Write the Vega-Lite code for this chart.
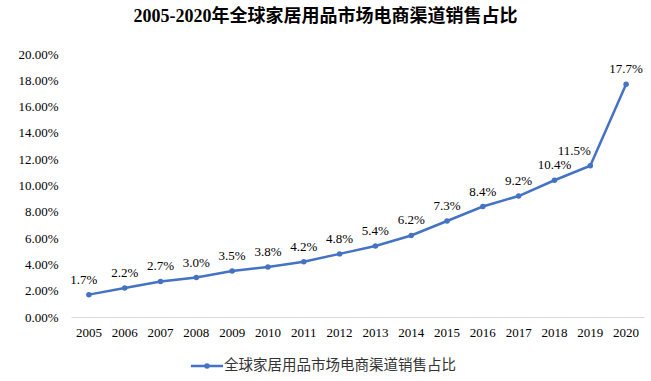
{
  "$schema": "https://vega.github.io/schema/vega-lite/v6.json",
  "autosize": {"type": "none"},
  "width": 573,
  "height": 263,
  "padding": {"left": 71, "top": 54, "right": 7, "bottom": 64},
  "background": "white",
  "config": {
    "view": {"stroke": null},
    "font": "'Liberation Serif', 'Times New Roman', serif"
  },
  "title": {
    "text": "2005-2020年全球家居用品市场电商渠道销售占比",
    "font": "'Liberation Serif', 'Noto Sans CJK SC', serif",
    "fontSize": 18,
    "fontWeight": "bold",
    "color": "#000000",
    "anchor": "middle",
    "dx": -32,
    "offset": 22
  },
  "data": {
    "values": [
      {"year": "2005", "share": 0.017, "series": "全球家居用品市场电商渠道销售占比"},
      {"year": "2006", "share": 0.022, "series": "全球家居用品市场电商渠道销售占比"},
      {"year": "2007", "share": 0.027, "series": "全球家居用品市场电商渠道销售占比"},
      {"year": "2008", "share": 0.030, "series": "全球家居用品市场电商渠道销售占比"},
      {"year": "2009", "share": 0.035, "series": "全球家居用品市场电商渠道销售占比"},
      {"year": "2010", "share": 0.038, "series": "全球家居用品市场电商渠道销售占比"},
      {"year": "2011", "share": 0.042, "series": "全球家居用品市场电商渠道销售占比"},
      {"year": "2012", "share": 0.048, "series": "全球家居用品市场电商渠道销售占比"},
      {"year": "2013", "share": 0.054, "series": "全球家居用品市场电商渠道销售占比"},
      {"year": "2014", "share": 0.062, "series": "全球家居用品市场电商渠道销售占比"},
      {"year": "2015", "share": 0.073, "series": "全球家居用品市场电商渠道销售占比"},
      {"year": "2016", "share": 0.084, "series": "全球家居用品市场电商渠道销售占比"},
      {"year": "2017", "share": 0.092, "series": "全球家居用品市场电商渠道销售占比"},
      {"year": "2018", "share": 0.104, "series": "全球家居用品市场电商渠道销售占比"},
      {"year": "2019", "share": 0.115, "series": "全球家居用品市场电商渠道销售占比"},
      {"year": "2020", "share": 0.177, "series": "全球家居用品市场电商渠道销售占比"}
    ]
  },
  "encoding": {
    "x": {
      "field": "year",
      "type": "ordinal",
      "title": null,
      "scale": {"type": "band", "paddingInner": 0, "paddingOuter": 0},
      "axis": {
        "labelAngle": 0,
        "labelFont": "'Liberation Serif', 'Times New Roman', serif",
        "labelFontSize": 13,
        "labelColor": "#000000",
        "labelPadding": 9,
        "ticks": false,
        "domainColor": "#d9d9d9",
        "domainWidth": 1,
        "grid": false
      }
    },
    "y": {
      "field": "share",
      "type": "quantitative",
      "title": null,
      "scale": {"domain": [0, 0.2], "nice": false},
      "axis": {
        "values": [0, 0.02, 0.04, 0.06, 0.08, 0.1, 0.12, 0.14, 0.16, 0.18, 0.2],
        "format": ".2%",
        "labelFont": "'Liberation Serif', 'Times New Roman', serif",
        "labelFontSize": 13,
        "labelColor": "#000000",
        "labelPadding": 13,
        "ticks": false,
        "domain": false,
        "grid": false
      }
    }
  },
  "layer": [
    {
      "mark": {"type": "line", "color": "#4472C4", "strokeWidth": 2.5},
      "encoding": {
        "color": {
          "field": "series",
          "type": "nominal",
          "scale": {"range": ["#4472C4"]},
          "legend": {
            "title": null,
            "orient": "none",
            "legendX": 124,
            "legendY": 300,
            "direction": "horizontal",
            "symbolType": "M-1.5,0L1.5,0M-0.14,0A0.14,0.14 0 1,1 0.14,0A0.14,0.14 0 1,1 -0.14,0Z",
            "symbolSize": 460,
            "symbolStrokeWidth": 2.5,
            "symbolStrokeColor": "#4472C4",
            "symbolFillColor": "#4472C4",
            "labelFont": "'Noto Sans CJK SC', sans-serif",
            "labelFontSize": 14.5,
            "labelLimit": 0,
            "labelColor": "#333333",
            "labelOffset": 5
          }
        }
      }
    },
    {
      "mark": {"type": "point", "filled": true, "color": "#4472C4", "size": 30, "opacity": 1}
    },
    {
      "transform": [{"filter": "datum.year != '2019' && datum.year != '2005'"}],
      "mark": {"type": "text", "dy": -15, "fontSize": 13, "font": "'Liberation Serif', 'Times New Roman', serif", "color": "#000000"},
      "encoding": {"text": {"field": "share", "type": "quantitative", "format": ".1%"}}
    },
    {
      "transform": [{"filter": "datum.year == '2019'"}],
      "mark": {"type": "text", "dy": -15, "dx": -16, "fontSize": 13, "font": "'Liberation Serif', 'Times New Roman', serif", "color": "#000000"},
      "encoding": {"text": {"field": "share", "type": "quantitative", "format": ".1%"}}
    },
    {
      "transform": [{"filter": "datum.year == '2005'"}],
      "mark": {"type": "text", "dy": -15, "dx": -5, "fontSize": 13, "font": "'Liberation Serif', 'Times New Roman', serif", "color": "#000000"},
      "encoding": {"text": {"field": "share", "type": "quantitative", "format": ".1%"}}
    }
  ]
}
